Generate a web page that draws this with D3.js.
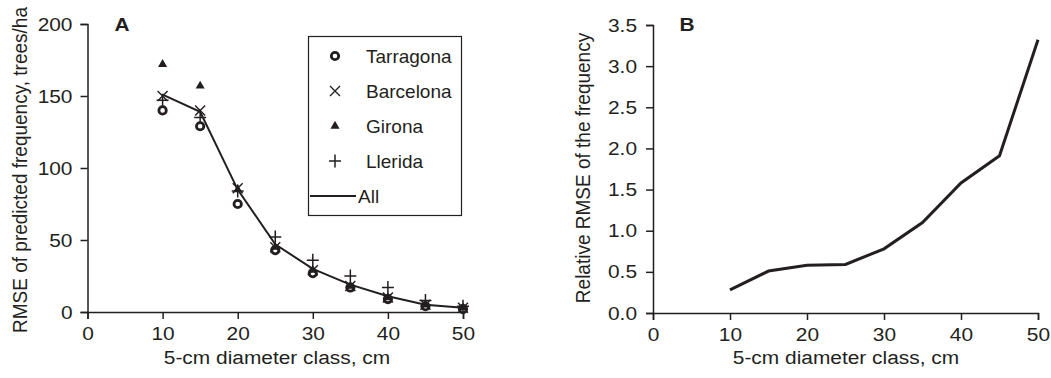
<!DOCTYPE html>
<html>
<head>
<meta charset="utf-8">
<script src="https://d3js.org/d3.v7.min.js"></script>
<style>
  body { margin: 0; background: #fff; }
  svg text { font-family: "Liberation Sans", Arial, sans-serif; fill: #231f20; }
  .axis path, .axis line { stroke: #231f20; stroke-width: 1.5; }
  .axis text { font-size: 19px; }
</style>
</head>
<body>
<svg id="chart" width="1051" height="378"></svg>
<script>
// diameter classes (cm)
const diam = [10, 15, 20, 25, 30, 35, 40, 45, 50];
// panel A: RMSE of predicted frequency, trees/ha
const tarragona = [140, 129, 75, 43, 27, 17, 9, 4, 2];
const barcelona = [150, 140, 86, 45, 29, 18, 10, 5, 3];
const girona    = [172, 157, 85, 45, 29, 18, 10, 5, 3];
const llerida   = [147, 135, 84, 52, 36, 25, 17, 8, 4];
const allRegions = [151, 139, 85, 47, 30, 19, 11, 5, 3];
// panel B: relative RMSE of the frequency
const relRmse = [0.28, 0.51, 0.58, 0.59, 0.78, 1.10, 1.58, 1.91, 3.32];

const xTicks = [0, 10, 20, 30, 40, 50];
const yTicksA = [0, 50, 100, 150, 200];
const yTicksB = [0, 0.5, 1, 1.5, 2, 2.5, 3, 3.5];

const ink = "#231f20";
const fs = 19;
const sx = 1.1; // the original lettering is a little wide
const svg = d3.select("#chart");

// widen a text horizontally around its own x anchor
function widen(sel) {
  sel.each(function () {
    const t = d3.select(this);
    const x = +t.attr("x") || 0;
    t.attr("transform", "translate(" + (x * (1 - sx)) + ",0) scale(" + sx + ",1)");
  });
}

// ---------- panel A ----------
const xA = d3.scaleLinear().domain([0, 50]).range([87.5, 463]);
const yA = d3.scaleLinear().domain([0, 200]).range([312, 24]);

const gA = svg.append("g");
gA.append("g").attr("class", "axis")
  .attr("transform", "translate(0," + yA(0) + ")")
  .call(d3.axisBottom(xA).tickValues(xTicks).tickSizeOuter(0).tickSize(7).tickPadding(8));
gA.append("g").attr("class", "axis")
  .attr("transform", "translate(" + xA(0) + ",0)")
  .call(d3.axisLeft(yA).tickValues(yTicksA).tickSizeOuter(0).tickSize(7).tickPadding(8));

const pts = (vals) => diam.map((d, i) => [d, vals[i]]);

// markers
const sym = {
  tarragona: (g) => g.append("circle").attr("r", 3.7).attr("fill", "#fff").attr("stroke", ink).attr("stroke-width", 2.8),
  barcelona: (g) => g.append("path").attr("d", "M-5,-5L5,5M-5,5L5,-5").attr("stroke", ink).attr("stroke-width", 1.4).attr("fill", "none"),
  girona: (g) => g.append("path").attr("d", d3.symbol(d3.symbolTriangle, 36)()).attr("fill", ink),
  llerida: (g) => g.append("path").attr("d", "M-6,0L6,0M0,-6.5L0,6.5").attr("stroke", ink).attr("stroke-width", 1.5).attr("fill", "none")
};

const seriesA = [
  ["tarragona", tarragona],
  ["barcelona", barcelona],
  ["girona", girona],
  ["llerida", llerida]
];
seriesA.forEach(([key, vals]) => {
  gA.append("g").selectAll("g")
    .data(pts(vals)).enter().append("g")
    .attr("transform", d => "translate(" + xA(d[0]) + "," + yA(d[1]) + ")")
    .each(function () { sym[key](d3.select(this)); });
});

gA.append("path")
  .datum(pts(allRegions))
  .attr("fill", "none").attr("stroke", ink).attr("stroke-width", 2)
  .attr("d", d3.line().x(d => xA(d[0])).y(d => yA(d[1])));

// legend
const leg = gA.append("g");
leg.append("rect").attr("x", 308.5).attr("y", 36.5).attr("width", 153).attr("height", 179)
  .attr("fill", "#fff").attr("stroke", ink).attr("stroke-width", 1.2);
const legItems = [["tarragona", "Tarragona"], ["barcelona", "Barcelona"], ["girona", "Girona"], ["llerida", "Llerida"]];
legItems.forEach(([key, label], i) => {
  const y = 56 + i * 35;
  sym[key](leg.append("g").attr("transform", "translate(335," + y + ")"));
  leg.append("text").attr("x", 366).attr("y", y).attr("dy", "0.35em").attr("font-size", fs).text(label);
});
leg.append("line").attr("x1", 310).attr("x2", 356).attr("y1", 196).attr("y2", 196)
  .attr("stroke", ink).attr("stroke-width", 2);
leg.append("text").attr("x", 358).attr("y", 196).attr("dy", "0.35em").attr("font-size", fs).text("All");

gA.append("text").attr("class", "wide").attr("x", 122).attr("y", 31).attr("font-size", fs).attr("font-weight", "bold")
  .attr("text-anchor", "middle").text("A");
gA.append("text").attr("class", "wide").attr("x", 277).attr("y", 364).attr("font-size", fs).attr("text-anchor", "middle")
  .text("5-cm diameter class, cm");
gA.append("text").attr("transform", "translate(27,170) scale(" + sx + ",1) rotate(-90)").attr("font-size", fs)
  .attr("text-anchor", "middle").text("RMSE of predicted frequency, trees/ha");

// ---------- panel B ----------
const xB = d3.scaleLinear().domain([0, 50]).range([653, 1038]);
const yB = d3.scaleLinear().domain([0, 3.5]).range([313, 25]);

const gB = svg.append("g");
gB.append("g").attr("class", "axis")
  .attr("transform", "translate(0," + yB(0) + ")")
  .call(d3.axisBottom(xB).tickValues(xTicks).tickSizeOuter(0).tickSize(7).tickPadding(8));
gB.append("g").attr("class", "axis")
  .attr("transform", "translate(" + xB(0) + ",0)")
  .call(d3.axisLeft(yB).tickValues(yTicksB).tickFormat(d3.format(".1f")).tickSizeOuter(0).tickSize(7).tickPadding(9));

gB.append("path")
  .datum(diam.map((d, i) => [d, relRmse[i]]))
  .attr("fill", "none").attr("stroke", ink).attr("stroke-width", 3)
  .attr("d", d3.line().x(d => xB(d[0])).y(d => yB(d[1])));

gB.append("text").attr("class", "wide").attr("x", 687).attr("y", 31).attr("font-size", fs).attr("font-weight", "bold")
  .attr("text-anchor", "middle").text("B");
gB.append("text").attr("class", "wide").attr("x", 846).attr("y", 364).attr("font-size", fs).attr("text-anchor", "middle")
  .text("5-cm diameter class, cm");
gB.append("text").attr("transform", "translate(590,168) scale(" + sx + ",1) rotate(-90)").attr("font-size", fs)
  .attr("text-anchor", "middle").text("Relative RMSE of the frequency");

widen(svg.selectAll(".axis text"));
widen(svg.selectAll("text.wide"));
</script>
</body>
</html>
